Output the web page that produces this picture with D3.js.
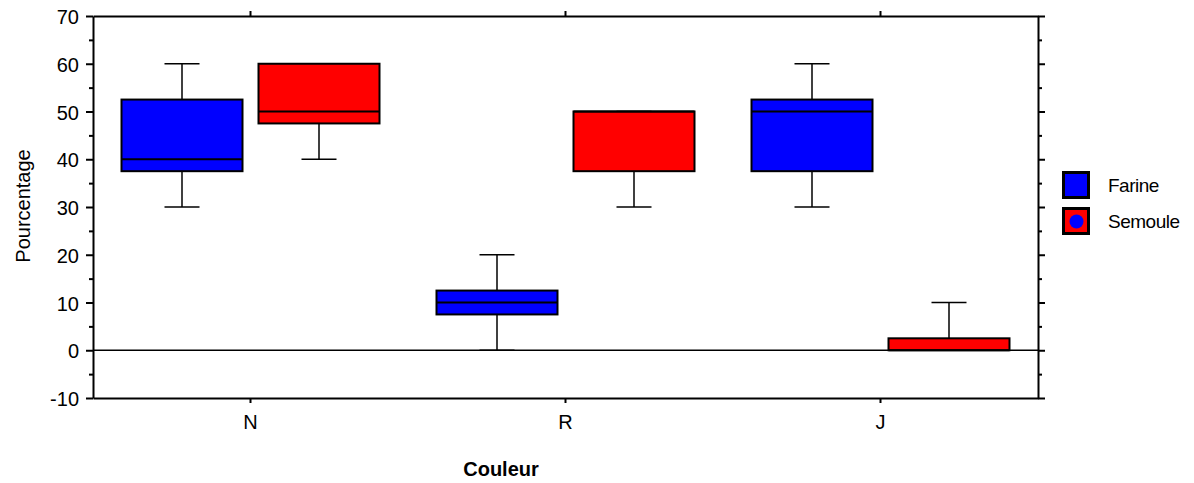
<!DOCTYPE html>
<html>
<head>
<meta charset="utf-8">
<script src="https://cdn.jsdelivr.net/npm/d3@7"></script>
<style>
  body { margin: 0; background: #fff; }
  text { font-family: Arial, "Liberation Sans", sans-serif; fill: #000; }
</style>
</head>
<body>
<svg id="chart" width="1194" height="483"></svg>
<script>
// data
var categories = ['N', 'R', 'J'];
var seriesNames = ['Farine', 'Semoule'];
var seriesColors = ['#0000ff', '#ff0000'];
// [min, q1, median, q3, max] per category
var farineStats = [[30, 37.5, 40, 52.5, 60], [0, 7.5, 10, 12.5, 20], [30, 37.5, 50, 52.5, 60]];
var semouleStats = [[40, 47.5, 50, 60, 60], [30, 37.5, 50, 50, 50], [0, 0, 0, 2.5, 10]];
var yMajor = [-10, 0, 10, 20, 30, 40, 50, 60, 70];
var yMinor = [-5, 5, 15, 25, 35, 45, 55, 65];

var svg = d3.select('#chart'),
    plotLeft = 93, plotRight = 1038, plotTop = 16, plotBottom = 398;

var x = d3.scaleBand().domain(categories).range([plotLeft, plotRight]);
var inner = d3.scalePoint().domain(seriesNames).range([-68.5, 68.5]);
var y = d3.scaleLinear().domain([-10, 70]).range([plotBottom, plotTop]);
var boxW = 121, capW = 35;

function cx(cat) { return x(cat) + x.bandwidth() / 2; }

// zero line
svg.append('line')
    .attr('x1', plotLeft).attr('x2', plotRight)
    .attr('y1', y(0)).attr('y2', y(0))
    .attr('stroke', '#000').attr('stroke-width', 1.5);

// boxes
var allStats = [farineStats, semouleStats];
allStats.forEach(function (stats, si) {
    var g = svg.append('g');
    stats.forEach(function (s, ci) {
        var c = cx(categories[ci]) + inner(seriesNames[si]);
        var w = g.append('g').attr('stroke', '#000').attr('stroke-width', 1.5);
        // whiskers
        w.append('line').attr('x1', c).attr('x2', c).attr('y1', y(s[0])).attr('y2', y(s[1]));
        w.append('line').attr('x1', c).attr('x2', c).attr('y1', y(s[3])).attr('y2', y(s[4]));
        w.append('line').attr('x1', c - capW / 2).attr('x2', c + capW / 2).attr('y1', y(s[0])).attr('y2', y(s[0]));
        w.append('line').attr('x1', c - capW / 2).attr('x2', c + capW / 2).attr('y1', y(s[4])).attr('y2', y(s[4]));
        g.append('rect')
            .attr('x', c - boxW / 2).attr('width', boxW)
            .attr('y', y(s[3])).attr('height', y(s[1]) - y(s[3]))
            .attr('fill', seriesColors[si])
            .attr('stroke', '#000').attr('stroke-width', 2);
        g.append('line')
            .attr('x1', c - boxW / 2).attr('x2', c + boxW / 2)
            .attr('y1', y(s[2])).attr('y2', y(s[2]))
            .attr('stroke', '#000').attr('stroke-width', 2);
    });
});

// axes
function styleAxis(g) {
    g.select('.domain').attr('stroke-width', 2);
    g.selectAll('.tick line').attr('stroke-width', 2);
    g.selectAll('text').style('font-size', '20px').attr('font-family', null);
}

svg.append('g').attr('transform', 'translate(' + plotLeft + ',0)')
    .call(d3.axisLeft(y).tickValues(yMajor).tickSize(7).tickPadding(7).tickSizeOuter(0)
        .tickFormat(function (d) { return String(d); }))
    .call(styleAxis)
    .call(function (g) { g.selectAll('text').attr('dy', null).attr('y', 7.5); });
svg.append('g').attr('transform', 'translate(' + plotLeft + ',0)')
    .call(d3.axisLeft(y).tickValues(yMinor).tickSize(4).tickFormat('').tickSizeOuter(0))
    .call(styleAxis).call(function (g) { g.select('.domain').remove(); });

svg.append('g').attr('transform', 'translate(' + plotRight + ',0)')
    .call(d3.axisRight(y).tickValues(yMajor).tickSize(7).tickFormat('').tickSizeOuter(0))
    .call(styleAxis);
svg.append('g').attr('transform', 'translate(' + plotRight + ',0)')
    .call(d3.axisRight(y).tickValues(yMinor).tickSize(4).tickFormat('').tickSizeOuter(0))
    .call(styleAxis).call(function (g) { g.select('.domain').remove(); });

svg.append('g').attr('transform', 'translate(0,' + plotBottom + ')')
    .call(d3.axisBottom(x).tickSize(5).tickSizeOuter(0))
    .call(styleAxis)
    .call(function (g) { g.selectAll('text').attr('dy', null).attr('y', 31); });
svg.append('g').attr('transform', 'translate(0,' + plotTop + ')')
    .call(d3.axisTop(x).tickSize(5).tickFormat('').tickSizeOuter(0))
    .call(styleAxis);

// axis titles
svg.append('text')
    .attr('transform', 'translate(30,206) rotate(-90)')
    .attr('text-anchor', 'middle')
    .style('font-size', '20px')
    .text('Pourcentage');

svg.append('text')
    .attr('x', 501).attr('y', 476)
    .attr('text-anchor', 'middle')
    .style('font-size', '20px').style('font-weight', 'bold')
    .text('Couleur');

// legend
var legend = svg.append('g').selectAll('g')
    .data(seriesNames)
    .enter().append('g')
    .attr('transform', function (d, i) { return 'translate(1062,' + (171 + i * 36) + ')'; });

legend.append('rect')
    .attr('x', 1.5).attr('y', 1.5)
    .attr('width', 25).attr('height', 25)
    .attr('fill', function (d, i) { return seriesColors[i]; })
    .attr('stroke', '#000').attr('stroke-width', 3);

legend.filter(function (d, i) { return i === 1; })
    .append('circle')
    .attr('cx', 14.5).attr('cy', 14.5).attr('r', 7)
    .attr('fill', seriesColors[0]);

legend.append('text')
    .attr('x', 46).attr('y', 21)
    .style('font-size', '19px')
    .style('letter-spacing', '-0.5px')
    .text(function (d) { return d; });
</script>
</body>
</html>
